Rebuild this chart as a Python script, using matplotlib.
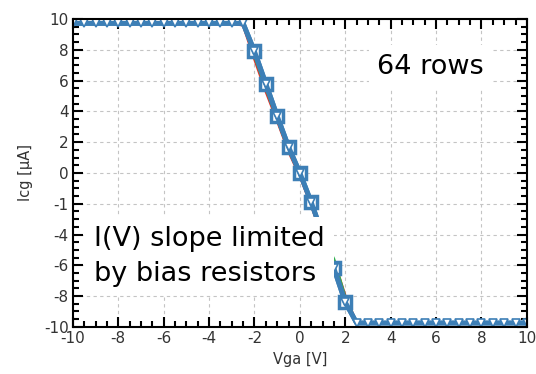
import numpy as np
import matplotlib
matplotlib.use("Agg")
import matplotlib.pyplot as plt
from matplotlib.ticker import MultipleLocator, FixedLocator

plt.rcParams["axes.unicode_minus"] = False

# gate voltage sweep [V]
vga = [-10, -9.5, -9, -8.5, -8, -7.5, -7, -6.5, -6, -5.5, -5, -4.5, -4, -3.5, -3, -2.5,
       -2, -1.5, -1, -0.5, 0, 0.5, 1, 1.5, 2,
       2.5, 3, 3.5, 4, 4.5, 5, 5.5, 6, 6.5, 7, 7.5, 8, 8.5, 9, 9.5, 10]

flat_hi = [9.72] * 16
flat_lo = [-9.75] * 16

# current through rows [uA], three overlapping traces
icg_blue = flat_hi + [7.9, 5.8, 3.7, 1.7, 0.0, -1.9, -4.0, -6.2, -8.4] + flat_lo
icg_red = flat_hi[:-1] + [9.6, 7.4, 5.3, 3.4, 1.4, -0.2, -2.1, -4.2, -5.7, -8.0] + flat_lo
icg_green = flat_hi[:-1] + [9.7, 7.6, 5.5, 3.5, 1.5, -0.1, -2.0, -4.1, -5.6, -8.1] + flat_lo

ytick_pos = [10, 8, 6, 4, 2, 0, -2, -4, -6, -8, -10]
ytick_lab = ["10", "8", "6", "4", "2", "0", "-1", "-4", "-6", "-8", "-10"]

blue = "#3d7fb6"
slope_idx = list(range(16, 25))

fig = plt.figure(figsize=(5.36, 3.74), dpi=100)
ax = fig.add_axes([0.136, 0.126, 0.847, 0.823])

ax.plot(vga, icg_red, color="#e03030", lw=2)
ax.plot(vga, icg_green, color="#30b050", lw=2)
ax.plot(vga, icg_blue, color=blue, lw=3.5, marker="s", ms=8, mfc="white", mec=blue,
        mew=2.5, markevery=slope_idx)
ax.plot(vga, icg_blue, color=blue, lw=3.5, marker="v", ms=6, mfc="white", mec=blue, mew=1.2)

ax.set_xlim(-10, 10)
ax.set_ylim(-10, 10)
ax.xaxis.set_major_locator(MultipleLocator(2))
ax.xaxis.set_minor_locator(MultipleLocator(0.5))
ax.yaxis.set_major_locator(FixedLocator(ytick_pos))
ax.set_yticklabels(ytick_lab)
ax.yaxis.set_minor_locator(MultipleLocator(0.5))
ax.tick_params(which="both", direction="in", top=True, right=True, width=1.5,
               labelsize=11, labelcolor="#333333", pad=3)
ax.tick_params(which="major", length=7)
ax.tick_params(which="minor", length=4)
for s in ax.spines.values():
    s.set_linewidth(1.5)
ax.grid(True, which="major", ls=(0, (3, 3)), color="#c4c4c4", lw=0.8)

ax.set_xlabel("Vga [V]", fontsize=10.5, color="#333333", labelpad=4)
ax.set_ylabel("Icg [µA]", fontsize=10.5, color="#333333", labelpad=8)

ax.text(5.75, 6.9, "64 rows", fontsize=19.5, ha="center", va="center",
        bbox=dict(facecolor="white", edgecolor="none", pad=6))
ax.text(-9.05, -5.4, "I(V) slope limited\nby bias resistors", fontsize=19.5,
        ha="left", va="center", linespacing=1.45,
        bbox=dict(facecolor="white", edgecolor="none", pad=6))

fig.savefig("out.png", dpi=100)
